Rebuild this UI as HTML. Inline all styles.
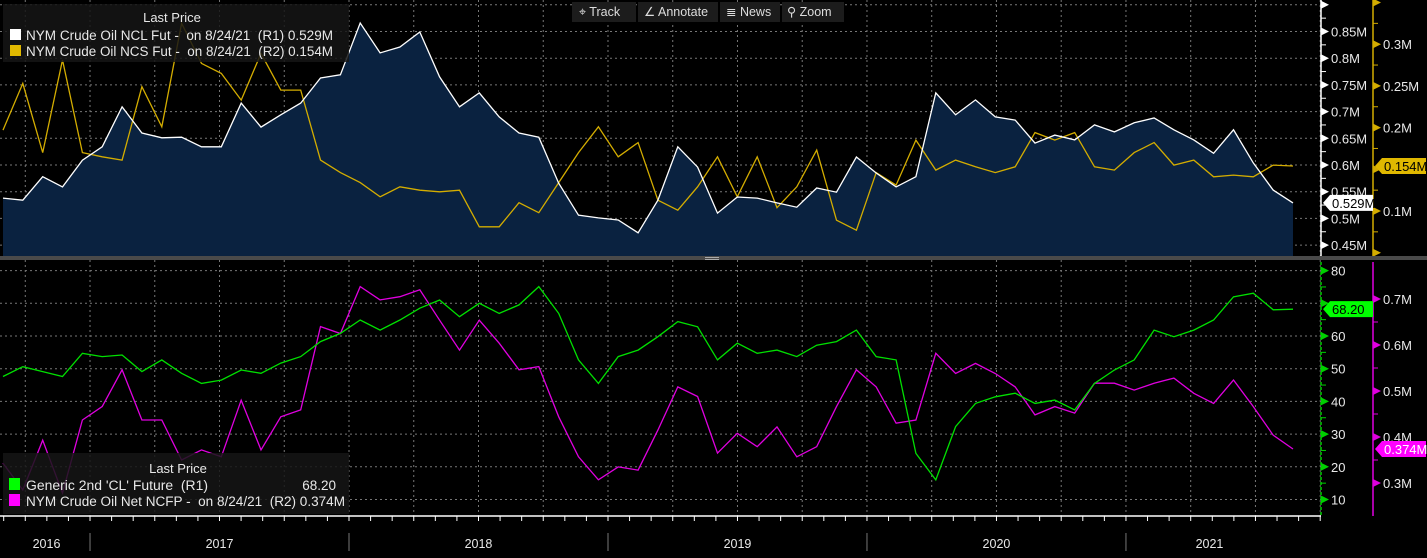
<!DOCTYPE html>
<html><head><meta charset="utf-8"><style>
html,body{margin:0;padding:0;background:#000;}
body{width:1427px;height:553px;overflow:hidden;font-family:"Liberation Sans",sans-serif;}
svg text{font-family:"Liberation Sans",sans-serif;}
</style></head><body>
<svg id="chart" width="1427" height="553" viewBox="0 0 1427 553" xmlns="http://www.w3.org/2000/svg">
<rect x="0" y="0" width="1427" height="553" fill="#000"/>
<g id="grid"></g>
<g id="top-series"></g>
<g id="bot-series"></g>
<g id="axes"></g>
<rect x="0" y="256" width="1427" height="4" fill="#4a4a4a"/>
<rect x="705" y="257" width="14" height="1" fill="#aaa"/><rect x="705" y="259" width="14" height="1" fill="#aaa"/>
<g>
 <rect x="572" y="2" width="64" height="20" fill="#1c1c1c"/>
 <rect x="638" y="2" width="80" height="20" fill="#1c1c1c"/>
 <rect x="720" y="2" width="60" height="20" fill="#1c1c1c"/>
 <rect x="782" y="2" width="62" height="20" fill="#1c1c1c"/>
 <text x="579" y="16" font-size="12.5" fill="#ddd">⌖ Track</text>
 <text x="644" y="16" font-size="12.5" fill="#ddd">∠ Annotate</text>
 <text x="726" y="16" font-size="12.5" fill="#ddd">≣ News</text>
 <text x="787" y="16" font-size="12.5" fill="#ddd">⚲ Zoom</text>
</g>
<g>
 <rect x="3" y="4" width="346" height="58" fill="#151515" fill-opacity="0.85"/>
 <text x="172" y="22" font-size="13" fill="#e8e8e8" text-anchor="middle">Last Price</text>
 <rect x="10" y="29" width="11" height="11" fill="#fff"/>
 <text x="26" y="40" font-size="13.5" fill="#e8e8e8" textLength="307" lengthAdjust="spacingAndGlyphs" xml:space="preserve">NYM Crude Oil NCL Fut -  on 8/24/21  (R1) 0.529M</text>
 <rect x="10" y="45" width="11" height="11" fill="#e0b800"/>
 <text x="26" y="56" font-size="13.5" fill="#e8e8e8" textLength="307" lengthAdjust="spacingAndGlyphs" xml:space="preserve">NYM Crude Oil NCS Fut -  on 8/24/21  (R2) 0.154M</text>
</g>
<g>
 <rect x="3" y="453" width="346" height="61" fill="#151515" fill-opacity="0.85"/>
 <text x="178" y="473" font-size="13" fill="#e8e8e8" text-anchor="middle">Last Price</text>
 <rect x="9" y="478" width="11" height="12" fill="#00ff00"/>
 <text x="26" y="490" font-size="13.5" fill="#e8e8e8" textLength="182" lengthAdjust="spacingAndGlyphs" xml:space="preserve">Generic 2nd 'CL' Future  (R1)</text>
 <text x="336" y="490" font-size="13.5" fill="#e8e8e8" text-anchor="end">68.20</text>
 <rect x="9" y="494" width="11" height="12" fill="#ff00ff"/>
 <text x="26" y="506" font-size="13.5" fill="#e8e8e8" textLength="319" lengthAdjust="spacingAndGlyphs" xml:space="preserve">NYM Crude Oil Net NCFP -  on 8/24/21  (R2) 0.374M</text>
</g>
<g id="labels"></g>
</svg>
<script>
// ---- data (sampled every 4 weeks from 2016-08-31 to 2021-08-24) ----
const nclValues = [0.538,0.534,0.578,0.559,0.609,0.634,0.709,0.660,0.651,0.652,0.634,0.634,0.716,0.671,0.694,0.716,0.763,0.769,0.866,0.810,0.821,0.849,0.765,0.709,0.735,0.690,0.660,0.652,0.566,0.506,0.501,0.497,0.473,
0.534,0.634,0.596,0.510,0.540,0.538,0.529,0.521,0.557,0.549,0.615,0.585,0.559,0.578,0.735,0.694,0.722,0.690,0.684,0.641,0.656,0.647,0.675,0.662,0.679,0.688,0.666,0.647,0.622,0.666,0.604,0.553,0.529];
const ncsValues = [0.197,0.253,0.170,0.281,0.170,0.165,0.161,0.249,0.201,0.325,0.277,0.265,0.233,0.289,0.245,0.245,0.161,0.146,0.134,0.117,0.129,0.125,0.123,0.125,0.081,0.081,0.110,0.098,0.134,0.170,0.201,0.165,0.182,
0.113,0.101,0.129,0.165,0.117,0.165,0.104,0.129,0.173,0.089,0.077,0.146,0.131,0.185,0.149,0.161,0.153,0.146,0.153,0.194,0.185,0.194,0.153,0.149,0.170,0.182,0.155,0.161,0.141,0.143,0.141,0.155,0.154];
const clValues = [47.6,50.6,49.1,47.6,54.7,53.7,54.2,49.1,52.7,48.6,45.5,46.5,49.6,48.6,51.7,53.7,58.3,60.8,64.9,61.8,64.9,68.5,71.0,65.9,70.0,66.9,69.5,75.1,66.9,52.7,45.5,53.7,55.7,
59.8,64.4,62.8,52.7,57.8,54.7,55.7,53.7,57.2,58.3,61.8,53.7,52.7,24.1,16.0,32.3,39.4,41.4,42.5,39.4,40.4,37.4,45.5,49.6,52.7,61.8,59.8,61.8,64.9,72.0,73.1,68.0,68.2];
const ncfpValues = [0.343,0.285,0.393,0.278,0.437,0.466,0.546,0.437,0.437,0.350,0.372,0.357,0.480,0.372,0.444,0.459,0.640,0.625,0.727,0.698,0.705,0.720,0.654,0.589,0.654,0.604,0.546,0.553,0.444,0.357,0.307,0.335,0.328,
0.415,0.509,0.488,0.365,0.408,0.379,0.422,0.357,0.379,0.466,0.546,0.509,0.430,0.437,0.582,0.538,0.560,0.538,0.509,0.448,0.466,0.452,0.517,0.517,0.502,0.517,0.528,0.495,0.473,0.524,0.466,0.404,0.374];
const yearLabels = ["2016","2017","2018","2019","2020","2021"];
const r1TopTicks = [0.45,0.5,0.55,0.6,0.65,0.7,0.75,0.8,0.85,0.9];
const r2TopTicks = [0.05,0.1,0.15,0.2,0.25,0.3,0.35];
const r1BotTicks = [10,20,30,40,50,60,70,80];
const r2BotTicks = [0.3,0.4,0.5,0.6,0.7];

// ---- scales ----
const startT = 2016.664, endT = 2021.645;
const X0 = 3, X1 = 1293;
function tAt(i){ return startT + (endT-startT)*i/(nclValues.length-1); }
function xT(t){ return X0 + (t-startT)/(endT-startT)*(X1-X0); }
function xI(i){ return xT(tAt(i)); }
const yNcl = v => 165 - (v-0.6)/0.05*26.7;
const yNcs = v => 211 - (v-0.1)/0.05*41.7;
const yCl  = v => 336 - (v-60)*3.27;
const yNcfp= v => 437 - (v-0.4)*460;
const NS="http://www.w3.org/2000/svg";
function mk(tag, attrs, parent){ const e=document.createElementNS(NS,tag); for(const k in attrs) e.setAttribute(k,attrs[k]); parent.appendChild(e); return e; }
const grid=document.getElementById('grid'), axes=document.getElementById('axes'), labels=document.getElementById('labels');
const topS=document.getElementById('top-series'), botS=document.getElementById('bot-series');

for(let t=2016.75; t<2021.8; t+=0.25){
  const x=xT(t);
  mk('line',{x1:x,y1:0,x2:x,y2:256,stroke:'#777','stroke-dasharray':'2,3','stroke-width':1},grid);
  mk('line',{x1:x,y1:260,x2:x,y2:516,stroke:'#777','stroke-dasharray':'2,3','stroke-width':1},grid);
}
r1TopTicks.forEach(v=>{ const y=yNcl(v); if(y>2&&y<254) mk('line',{x1:0,y1:y,x2:1321,y2:y,stroke:'#777','stroke-dasharray':'2,3'},grid); });
r1BotTicks.forEach(v=>{ const y=yCl(v); mk('line',{x1:0,y1:y,x2:1321,y2:y,stroke:'#777','stroke-dasharray':'2,3'},grid); });

function pts(vals, yf){ return vals.map((v,i)=>xI(i).toFixed(1)+','+yf(v).toFixed(1)).join(' '); }
const area=mk('polygon',{points:X0+',256 '+pts(nclValues,yNcl)+' '+xI(nclValues.length-1)+',256',fill:'#0a2240'},topS);


const ncs=mk('polyline',{points:pts(ncsValues,yNcs),fill:'none',stroke:'#d4ad00','stroke-width':1.3},topS);


const ncl=mk('polyline',{points:pts(nclValues,yNcl),fill:'none',stroke:'#fff','stroke-width':1.3},topS);


const ncfp=mk('polyline',{points:pts(ncfpValues,yNcfp),fill:'none',stroke:'#e000e0','stroke-width':1.3},botS);


const cl=mk('polyline',{points:pts(clValues,yCl),fill:'none',stroke:'#00e000','stroke-width':1.3},botS);



function axis(x, y0, y1, color, ticks, yf, fmt, dashed, name, hide){
  const ln=mk('line',{x1:x,y1:y0,x2:x,y2:y1,stroke:color,'stroke-width':1.5},axes);
  if(dashed) ln.setAttribute('stroke-dasharray','3,2');
  
  
  for(let k=0;k<ticks.length;k++){
    const v=ticks[k], y=yf(v);
    if(y<y0-1||y>y1+1) continue;
    mk('polygon',{points:x+','+(y-4)+' '+(x+8)+','+y+' '+x+','+(y+4),fill:color},axes);
    if(k<ticks.length-1){ const ym=(y+yf(ticks[k+1]))/2; if(ym>y0&&ym<y1) mk('line',{x1:x,y1:ym,x2:x+5,y2:ym,stroke:color},axes); }
    if(hide.indexOf(v)<0 && y>y0+6 && y<y1-4){
      const t=mk('text',{x:x+10,y:y+5,'font-size':13,fill:'#e8e8e8'},labels);
      t.textContent=fmt(v);
    }
  }
}
axis(1321,0,256,'#ffffff',r1TopTicks,yNcl,v=>(+v.toFixed(2))+'M',false,'r1-top-axis',[]);
axis(1373,0,256,'#d4ad00',r2TopTicks,yNcs,v=>(+v.toFixed(2))+'M',false,'r2-top-axis',[0.15]);
axis(1321,262,516,'#00d000',r1BotTicks,yCl,v=>String(v),true,'r1-bottom-axis',[70]);
axis(1373,262,516,'#e000e0',r2BotTicks,yNcfp,v=>(+v.toFixed(1))+'M',false,'r2-bottom-axis',[]);

function tag(x,y,w,fill,txtColor,txt,name){
  const g=mk('g',{},labels);
  
  
  mk('polygon',{points:x+','+y+' '+(x+7)+','+(y-8)+' '+(x+w)+','+(y-8)+' '+(x+w)+','+(y+8)+' '+(x+7)+','+(y+8),fill:fill},g);
  const t=mk('text',{x:x+9,y:y+5,'font-size':13,fill:txtColor},g); t.textContent=txt;
}
tag(1323,yNcl(nclValues[nclValues.length-1]),50,'#ffffff','#000','0.529M','ncl-last-tag');
tag(1375,yNcs(ncsValues[ncsValues.length-1]),51,'#e0b800','#000','0.154M','ncs-last-tag');
tag(1323,yCl(clValues[clValues.length-1]),50,'#00ff00','#000','68.20','cl-last-tag');
tag(1375,yNcfp(ncfpValues[ncfpValues.length-1]),51,'#ff00ff','#fff','0.374M','ncfp-last-tag');

mk('line',{x1:0,y1:516,x2:1321,y2:516,stroke:'#fff','stroke-width':1.5},axes);
for(let m=0;m<62;m++){ const x=xT(2016+8/12+m/12); if(x>0&&x<1321) mk('line',{x1:x,y1:516,x2:x,y2:521,stroke:'#fff'},axes); }
const bounds=[X0,xT(2017),xT(2018),xT(2019),xT(2020),xT(2021),X1];
for(let k=0;k<yearLabels.length;k++){
  if(k>0) mk('line',{x1:bounds[k],y1:533,x2:bounds[k],y2:551,stroke:'#777'},axes);
  const t=mk('text',{x:(bounds[k]+bounds[k+1])/2,y:548,'font-size':12.5,fill:'#e8e8e8','text-anchor':'middle'},labels);
  
  
  t.textContent=yearLabels[k];
}
</script>
</body></html>
